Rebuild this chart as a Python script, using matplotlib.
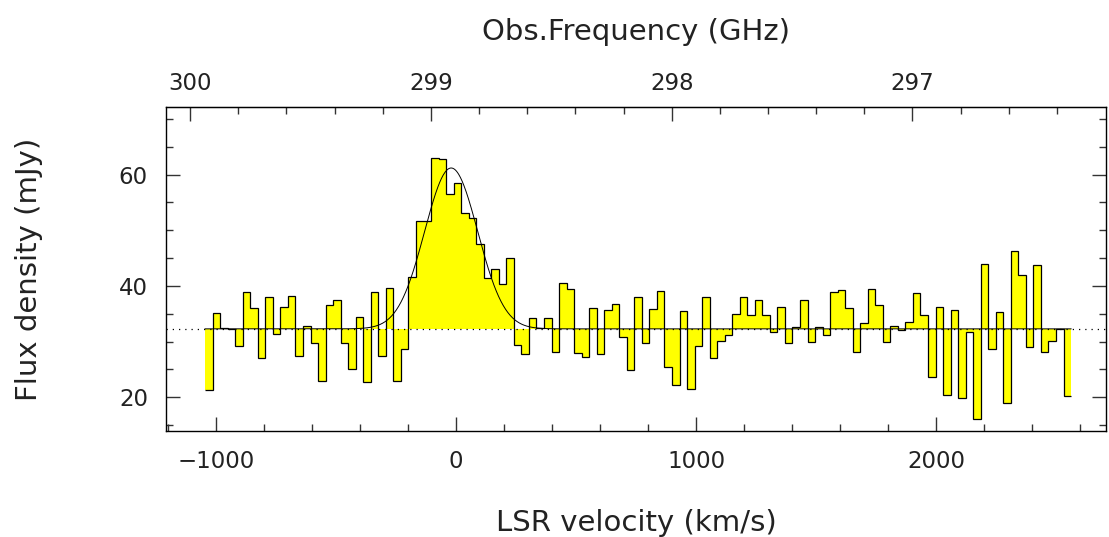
import numpy as np
import matplotlib
matplotlib.use("Agg")
import matplotlib.pyplot as plt

plt.rcParams['font.family'] = ['DejaVu Sans']

# Spectrum: flux per channel (mJy), channels of equal width in LSR velocity
v_start = -1045.0   # km/s, left edge of first channel
dv = 31.37          # km/s, channel width
flux = [21.4, 35.1, 32.5, 32.2, 29.2, 38.9, 36.1, 27.1, 38.1, 31.4,
        36.3, 38.2, 27.4, 32.9, 29.7, 22.9, 36.5, 37.4, 29.7, 25.1,
        34.5, 22.7, 38.9, 27.4, 39.6, 23.0, 28.6, 41.7, 51.6, 51.6,
        63.0, 62.9, 56.6, 58.5, 53.2, 52.3, 47.6, 41.4, 43.1, 40.4,
        45.1, 29.4, 27.8, 34.3, 32.4, 34.3, 28.1, 40.5, 39.5, 28.0,
        27.2, 36.0, 27.8, 35.6, 36.8, 30.8, 24.9, 38.1, 29.7, 35.9,
        39.1, 25.5, 22.2, 35.5, 21.5, 29.3, 38.0, 27.1, 30.2, 31.2,
        34.9, 38.0, 34.8, 37.5, 34.8, 31.7, 36.3, 29.7, 32.6, 37.5,
        29.9, 32.6, 31.2, 38.9, 39.3, 36.0, 28.1, 33.3, 39.5, 36.6,
        29.9, 32.8, 32.1, 33.6, 38.7, 34.7, 23.7, 36.2, 20.4, 35.6,
        19.8, 31.7, 16.1, 43.9, 28.7, 35.3, 18.9, 46.2, 41.9, 29.0,
        43.7, 28.2, 30.1, 32.3, 20.2]

# Gaussian fit + continuum level
base = 32.3
g_amp = 28.9
g_cen = -20.0
g_fwhm = 260.0

# frequency axis: observed freq at v=0 (GHz)
f0 = 298.896
c_kms = 299792.458

edges = v_start + dv * np.arange(len(flux) + 1)

fig = plt.figure(figsize=(11.09, 5.37), dpi=100)
ax = fig.add_axes([166 / 1109, 1 - 431 / 537, 940 / 1109, 323.7 / 537])

ax.stairs(flux, edges, baseline=base, fill=True, color='#ffff00', lw=0)
ax.stairs(flux, edges, baseline=None, color='black', lw=0.9)
ax.axhline(base, color='black', lw=0.9, ls=(0, (1, 4)))

sig = g_fwhm / 2.3548
vv = np.linspace(edges[0], edges[-1], 1500)
ax.plot(vv, base + g_amp * np.exp(-0.5 * ((vv - g_cen) / sig) ** 2), color='black', lw=0.7)

ax.set_xlim(-1208, 2708)
ax.set_ylim(13.95, 72.1)

ax.set_xticks([-1000, 0, 1000, 2000])
ax.set_xticks(np.arange(-1200, 2701, 200), minor=True)
ax.set_yticks([20, 40, 60])
ax.set_yticks(np.arange(15, 72, 5), minor=True)
ax.set_xticklabels(['\u22121000', '0', '1000', '2000'])

ax.tick_params(which='both', direction='in', top=False, right=True, color='#333333', width=1.0)
ax.tick_params(which='major', length=10, labelsize=16.5, labelcolor='#222222')
ax.tick_params(which='minor', length=5)
ax.tick_params(axis='x', pad=13.5)
ax.tick_params(axis='y', pad=13)
for s in ax.spines.values():
    s.set_linewidth(1.0)

ax.set_xlabel('LSR velocity (km/s)', fontsize=21, color='#222222')
ax.xaxis.set_label_coords(0.5, -0.242)
ax.set_ylabel('Flux density (mJy)', fontsize=21, color='#222222')
ax.yaxis.set_label_coords(-0.131, 0.5)


def v2f(v):
    return f0 * (1 - np.asarray(v) / c_kms)


def f2v(f):
    return c_kms * (1 - np.asarray(f) / f0)


top = ax.secondary_xaxis('top', functions=(v2f, f2v))
top.set_xticks([300, 299, 298, 297])
top.set_xticks(np.arange(296.4, 300.4, 0.2), minor=True)
top.tick_params(which='both', direction='in', color='#333333', width=1.0)
top.tick_params(which='major', length=10, labelsize=16.5, labelcolor='#222222', pad=9.2)
top.tick_params(which='minor', length=5)
top.set_xlabel('Obs.Frequency (GHz)', fontsize=21, color='#222222')
top.xaxis.set_label_coords(0.5, 1.2076, transform=ax.transAxes)

fig.savefig('out.png', dpi=100)
